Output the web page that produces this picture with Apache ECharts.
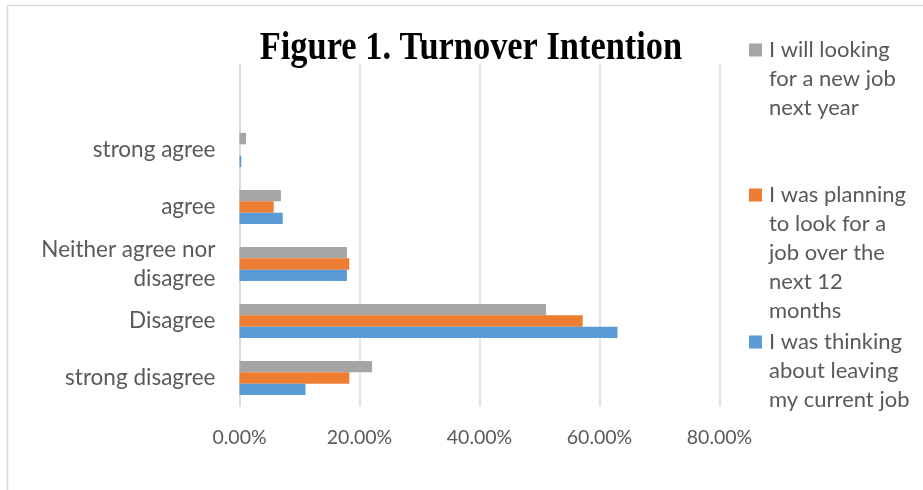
<!DOCTYPE html>
<html>
<head>
<meta charset="utf-8">
<script src="https://cdn.jsdelivr.net/npm/echarts@6/dist/echarts.min.js"></script>
<style>
  html, body { margin: 0; padding: 0; background: #fff; }
  #chart { width: 923px; height: 490px; }
</style>
</head>
<body>
<div id="chart"></div>
<script>
// Response categories, listed bottom to top; the blank slot keeps headroom above the top group
const categories = ['strong disagree', 'Disagree', 'Neither agree nor\ndisagree', 'agree', 'strong agree', ''];

// Share of respondents (%) per statement
const lookingNextYear = [22.1, 51.1, 17.9, 6.9, 1.1, null];
const planningToLook  = [18.3, 57.2, 18.3, 5.7, 0.0, null];
const thinkingLeaving = [11.0, 63.0, 17.9, 7.2, 0.3, null];

// Series listed top bar first within each group
const seriesNames = [
  'I will looking for a new job next year',
  'I was planning to look for a job over the next 12 months',
  'I was thinking about leaving my current job'
];
const legendLines = [
  'I will looking\nfor a new job\nnext year',
  'I was planning\nto look for a\njob over the\nnext 12\nmonths',
  'I was thinking\nabout leaving\nmy current job'
];
const colors = ['#A5A5A5', '#ED7D31', '#5B9BD5'];

const xTicks = { min: 0, max: 80, interval: 20 };

const FONT = 'Lato, "Open Sans", sans-serif';
const TEXT = '#595959';
const GRID = '#d9d9d9';

const chart = echarts.init(document.getElementById('chart'));

// Legend drawn as graphic items so each swatch sits beside the first text line
const legendFirstLine = [50, 195, 342];
const legendGraphics = [];
seriesNames.forEach((name, i) => {
  legendGraphics.push({
    type: 'rect',
    shape: { x: 749, y: legendFirstLine[i] - 6.5, width: 13, height: 13 },
    style: { fill: colors[i] }
  });
  legendGraphics.push({
    type: 'text',
    x: 769, y: legendFirstLine[i] - 14.5,
    style: {
      text: legendLines[i], font: '22px ' + FONT, fill: TEXT,
      lineHeight: 29, verticalAlign: 'top', align: 'left'
    }
  });
});

chart.setOption({
  backgroundColor: '#fff',
  animation: false,
  grid: { left: 239.5, right: 203.5, top: 64.5, bottom: 83.5, containLabel: false },
  xAxis: {
    type: 'value',
    min: xTicks.min, max: xTicks.max, interval: xTicks.interval,
    axisLine: { show: false },
    axisTick: { show: false },
    splitLine: { lineStyle: { color: GRID, width: 1.5 } },
    axisLabel: {
      color: TEXT, fontFamily: FONT, fontSize: 19.5, margin: 21,
      formatter: v => v.toFixed(2) + '%'
    }
  },
  yAxis: {
    type: 'category',
    data: categories,
    axisLine: { show: true, lineStyle: { color: GRID, width: 1.5 } },
    axisTick: { show: false },
    axisLabel: {
      color: TEXT, fontFamily: FONT, fontSize: 22.5, lineHeight: 29,
      margin: 24, align: 'right'
    }
  },
  series: [lookingNextYear, planningToLook, thinkingLeaving].map((d, i) => ({
    name: seriesNames[i],
    type: 'bar',
    data: d,
    barGap: '0%',
    barCategoryGap: '40%',
    itemStyle: { color: colors[i] }
  })),
  graphic: [
    // chart frame (top and left edges)
    { type: 'line', shape: { x1: 7.5, y1: 5.5, x2: 923, y2: 5.5 }, style: { stroke: GRID, lineWidth: 1.5 } },
    { type: 'line', shape: { x1: 7.5, y1: 5.5, x2: 7.5, y2: 490 }, style: { stroke: GRID, lineWidth: 1.5 } },
    {
      type: 'text', x: 471, y: 49, scaleX: 0.86, originX: 0, originY: 0,
      style: {
        text: 'Figure 1. Turnover Intention',
        font: 'bold 40px "Liberation Serif", "Times New Roman", serif',
        fill: '#000', align: 'center', verticalAlign: 'middle'
      }
    }
  ].concat(legendGraphics)
});
</script>
</body>
</html>
